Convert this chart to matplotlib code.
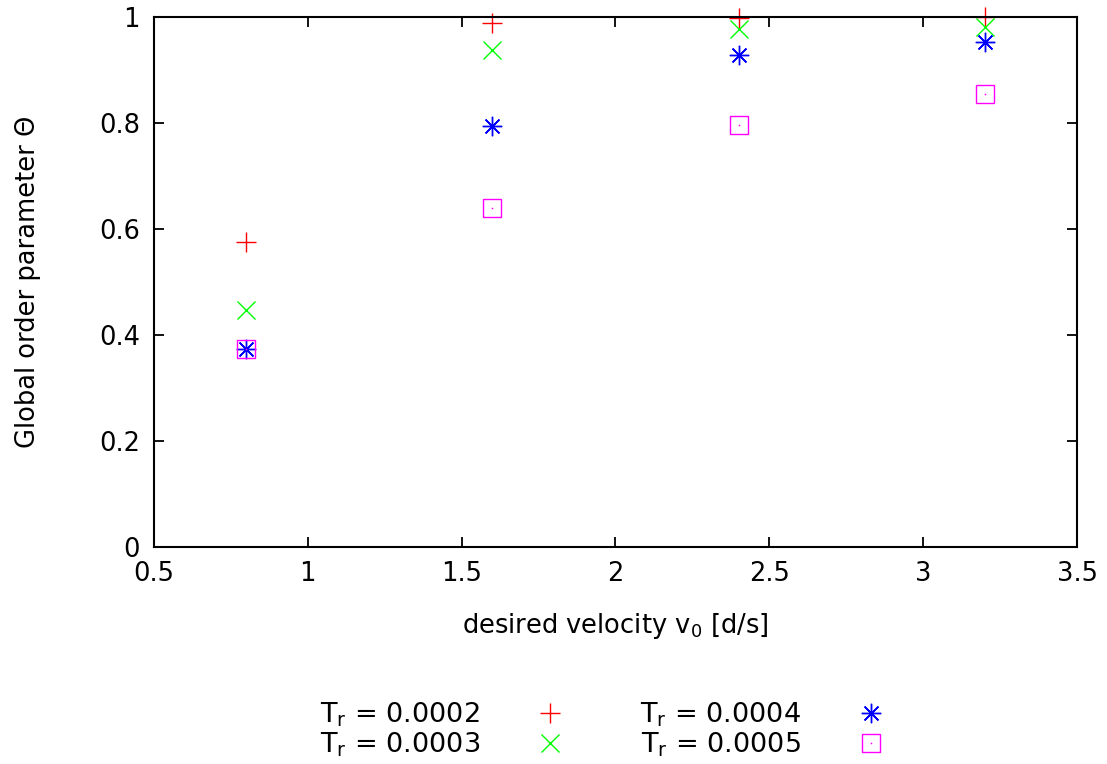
import matplotlib
matplotlib.use("Agg")
import matplotlib.pyplot as plt
from matplotlib.legend_handler import HandlerTuple

v0 = [0.8, 1.6, 2.4, 3.2]
theta_0002 = [0.575, 0.989, 0.998, 0.9995]
theta_0003 = [0.447, 0.938, 0.977, 0.981]
theta_0004 = [0.374, 0.794, 0.928, 0.953]
theta_0005 = [0.374, 0.640, 0.796, 0.855]
labels = [r"T$_\mathregular{r}$ = 0.0002", r"T$_\mathregular{r}$ = 0.0003",
          r"T$_\mathregular{r}$ = 0.0004", r"T$_\mathregular{r}$ = 0.0005"]
xticks = [0.5, 1, 1.5, 2, 2.5, 3, 3.5]
xticklabels = ["0.5", "1", "1.5", "2", "2.5", "3", "3.5"]
yticks = [0, 0.2, 0.4, 0.6, 0.8, 1]
yticklabels = ["0", "0.2", "0.4", "0.6", "0.8", "1"]

plt.rcParams['font.family'] = ['DejaVu Sans']
plt.rcParams['mathtext.fontset'] = 'dejavusans'
FS = 18.5

fig = plt.figure(figsize=(11.07, 7.64), dpi=100)
ax = fig.add_axes([0.139, 0.284, 0.834, 0.694])

ms = 14
h1, = ax.plot(v0, theta_0002, ls='none', marker='+', ms=ms, mew=1.0, color='#ff0000', clip_on=False)
h2, = ax.plot(v0, theta_0003, ls='none', marker='x', ms=ms*0.95, mew=1.0, color='#00ff00', clip_on=False)
h3, = ax.plot(v0, theta_0004, ls='none', marker=(8, 2, 0), ms=ms, mew=1.0, color='#0000ff', clip_on=False)
h3d, = ax.plot(v0, theta_0004, ls='none', marker='o', ms=2.0, mew=0, color='#0000ff', clip_on=False)
h4, = ax.plot(v0, theta_0005, ls='none', marker='s', ms=ms*0.95, mew=1.0, mfc='none', color='#ff00ff', clip_on=False)
h4d, = ax.plot(v0, theta_0005, ls='none', marker='o', ms=1.2, mew=0, color='#ff00ff', clip_on=False)

ax.set_xlim(0.5, 3.5)
ax.set_ylim(0, 1)
ax.set_xticks(xticks)
ax.set_xticklabels(xticklabels)
ax.set_yticks(yticks)
ax.set_yticklabels(yticklabels)
ax.tick_params(direction='in', length=7, width=1.3, top=True, right=True,
               labelsize=FS, pad=10, colors='black')
for s in ax.spines.values():
    s.set_linewidth(1.5)
ax.set_xlabel(r"desired velocity v$_\mathregular{0}$ [d/s]", fontsize=FS, labelpad=17)
ax.set_ylabel("Global order parameter \u0398", fontsize=FS, labelpad=42)

leg = fig.legend([h1, h2, (h3, h3d), (h4, h4d)], labels, ncol=2, loc='center',
                 bbox_to_anchor=(0.550, 0.045), frameon=False, fontsize=19.5,
                 markerfirst=False, labelspacing=0.08, columnspacing=2.3,
                 handlelength=2.0, handletextpad=1.6,
                 handler_map={tuple: HandlerTuple(ndivide=1)})

fig.savefig("out.png", dpi=100)
